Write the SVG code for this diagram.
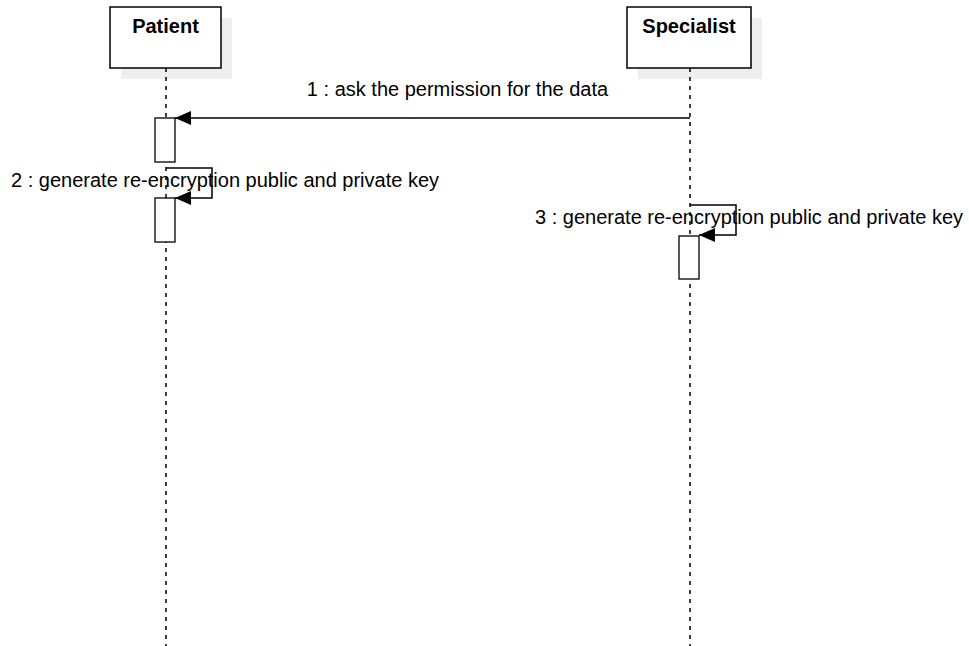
<svg xmlns="http://www.w3.org/2000/svg" width="969" height="646" viewBox="0 0 969 646">
<defs>
<style>
.shadow{fill:#eeeeee;stroke:none}
.box{fill:#ffffff;stroke:#000000;stroke-width:1.5}
.title{font-family:"Liberation Sans",Arial,sans-serif;font-size:20px;font-weight:bold;fill:#000;text-anchor:middle}
.life{stroke:#000;stroke-width:1.5;stroke-dasharray:4,5;fill:none}
.act{fill:#ffffff;stroke:#000;stroke-width:1.3}
.msg{stroke:#000;stroke-width:1.5;fill:none}
.lbl{font-family:"Liberation Sans",Arial,sans-serif;font-size:20px;fill:#000}
</style>
<marker id="arr" markerWidth="16" markerHeight="14" refX="16" refY="7" orient="auto" markerUnits="userSpaceOnUse">
<path d="M0,0 L16,7 L0,14 Z" fill="#000"/>
</marker>
</defs>
<g id="patient">
<rect class="shadow" x="121" y="18" width="111" height="61"/>
<rect class="box" x="110" y="7" width="111" height="61"/>
<text class="title" x="165.5" y="33">Patient</text>
<line class="life" x1="166" y1="68" x2="166" y2="646"/>
</g>
<g id="specialist">
<rect class="shadow" x="638" y="18" width="124" height="61"/>
<rect class="box" x="627" y="7" width="124" height="61"/>
<text class="title" x="689" y="33">Specialist</text>
<line class="life" x1="690" y1="68" x2="690" y2="646"/>
</g>
<g id="activations">
<rect class="act" x="155" y="118" width="20" height="44"/>
<rect class="act" x="155" y="198" width="20" height="44"/>
<rect class="act" x="679" y="236" width="20" height="43"/>
</g>
<g id="connectors">
<line class="msg" x1="690" y1="118" x2="175" y2="118" marker-end="url(#arr)"/>
<polyline class="msg" points="166,168 212,168 212,198 175,198" marker-end="url(#arr)"/>
<polyline class="msg" points="690,205 736,205 736,235 699,235" marker-end="url(#arr)"/>
</g>
<g id="labels">
<text class="lbl" x="457.5" y="96" text-anchor="middle">1 : ask the permission for the data</text>
<text class="lbl" x="11" y="187">2 : generate re-encryption public and private key</text>
<text class="lbl" x="535" y="224">3 : generate re-encryption public and private key</text>
</g>
</svg>
